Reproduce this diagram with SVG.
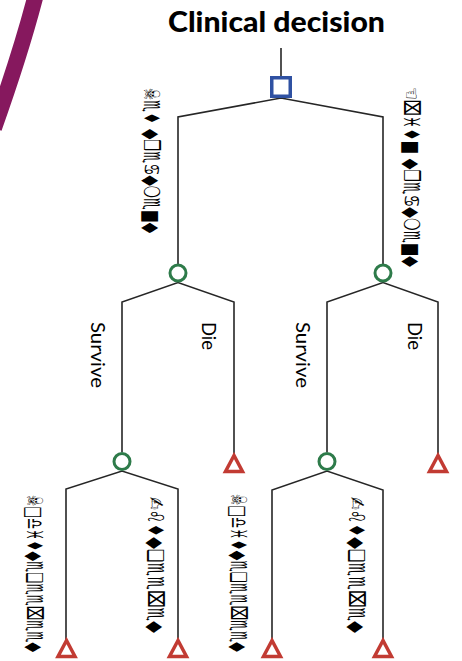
<svg xmlns="http://www.w3.org/2000/svg" width="462" height="661" viewBox="0 0 462 661">
<style>
.ln{fill:none;stroke:#262626;stroke-width:1.6}
.dec{fill:#fff;stroke:#2f51a2;stroke-width:3.5}
.chance{fill:#fff;stroke:#2e7b4a;stroke-width:3}
.term{fill:#fff;stroke:#c23b33;stroke-width:3.5;stroke-linejoin:miter}
.lbl{font-family:Lato,"Liberation Sans",sans-serif;font-size:19.5px;fill:#000}
.sym{font-family:"DejaVu Sans","Noto Sans",sans-serif;font-size:22px;font-weight:700;fill:#000}
.title{font-family:Lato,"Liberation Sans",sans-serif;font-weight:900;font-size:29px;fill:#000}
</style>
<path d="M35 -2 Q20 55 -6 128" fill="none" stroke="#86185e" stroke-width="16"/>
<g id="title"><text class="title" x="168" y="32" textLength="217" lengthAdjust="spacingAndGlyphs">Clinical decision</text></g>
<g id="connectors">
<path class="ln" d="M281 48 V76"/>
<path class="ln" d="M178 264 V117 L281 98 L383 117 V264"/>
<path class="ln" d="M122 452 V302 L178 282.5 L234 302 V455"/>
<path class="ln" d="M327 452 V302 L383 282.5 L438 302 V455"/>
<path class="ln" d="M66 640 V489 L122 471 L178 489 V640"/>
<path class="ln" d="M272 640 V490 L327 471 L383 490 V640"/>
</g>
<g id="decision"><rect class="dec" x="271.75" y="77.75" width="18.5" height="18.5"/></g>
<g id="chance1"><circle class="chance" cx="178" cy="273" r="8"/></g>
<g id="chance2"><circle class="chance" cx="383" cy="273" r="8"/></g>
<g id="chance3"><circle class="chance" cx="122" cy="461.5" r="8"/></g>
<g id="chance4"><circle class="chance" cx="327" cy="461.5" r="8"/></g>
<g id="term1"><polygon class="term" points="234,455.5 225.5,471.5 242.5,471.5"/></g>
<g id="term2"><polygon class="term" points="438,455.5 429.5,471.5 446.5,471.5"/></g>
<g id="term3"><polygon class="term" points="66.5,640.5 58,656.5 75,656.5"/></g>
<g id="term4"><polygon class="term" points="178,640.5 169.5,656.5 186.5,656.5"/></g>
<g id="term5"><polygon class="term" points="272,640.5 263.5,656.5 280.5,656.5"/></g>
<g id="term6"><polygon class="term" points="383,640.5 374.5,656.5 391.5,656.5"/></g>
<g id="labels">
<text class="lbl" transform="translate(90.5,322) rotate(90)" textLength="66" lengthAdjust="spacingAndGlyphs">Survive</text>
<text class="lbl" transform="translate(202,322) rotate(90)" textLength="28" lengthAdjust="spacingAndGlyphs">Die</text>
<text class="lbl" transform="translate(296,322) rotate(90)" textLength="66" lengthAdjust="spacingAndGlyphs">Survive</text>
<text class="lbl" transform="translate(408,322) rotate(90)" textLength="28" lengthAdjust="spacingAndGlyphs">Die</text>
<text class="sym" transform="translate(144,88) rotate(90)" textLength="145" lengthAdjust="spacingAndGlyphs">☠♏♦ ◆❒♏♋◆❍♏■◆</text>
<text class="sym" transform="translate(404,87) rotate(90)" textLength="180" lengthAdjust="spacingAndGlyphs">☜⌧♓♦■ ◆❒♏♋◆❍♏■◆</text>
<text class="sym" transform="translate(27,495) rotate(90)" textLength="157" lengthAdjust="spacingAndGlyphs">☠□♎♓♦◆♏❑♏♏⌧♏♏◆</text>
<text class="sym" transform="translate(148,497) rotate(90)" textLength="136" lengthAdjust="spacingAndGlyphs">✍♌♦◆❑♏♏⌧♏◆</text>
<text class="sym" transform="translate(231,494) rotate(90)" textLength="158" lengthAdjust="spacingAndGlyphs">☠□♎♓♦◆♏❑♏♏⌧♏♏◆</text>
<text class="sym" transform="translate(349,497) rotate(90)" textLength="136" lengthAdjust="spacingAndGlyphs">✍♌♦◆❑♏♏⌧♏◆</text>
</g>
</svg>
